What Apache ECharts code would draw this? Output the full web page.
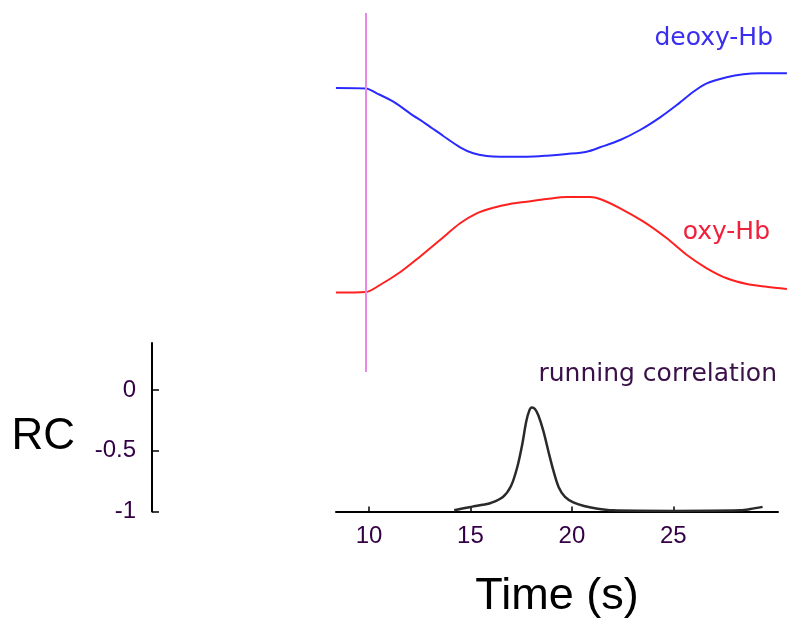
<!DOCTYPE html>
<html>
<head>
<meta charset="utf-8">
<script src="https://cdn.jsdelivr.net/npm/echarts@6/dist/echarts.min.js"></script>
<style>
html,body{margin:0;padding:0;background:#fff;}
#chart{width:800px;height:633px;}
</style>
</head>
<body>
<div id="chart"></div>
<script>
// ---- data ----
const timeTicks = [10, 15, 20, 25];
const rcTicks = [-1, -0.5, 0];
const stimulusTime = 9.84;

// [time (s), relative amplitude]
const deoxyHb = [
  [8.37, 2.84], [9.85, 2.835], [10.38, 2.787], [11.2, 2.703], [12.02, 2.587], [12.84, 2.477],
  [13.66, 2.36], [14.49, 2.247], [15.14, 2.187], [15.8, 2.16], [16.46, 2.153], [17.77, 2.153],
  [18.76, 2.163], [19.75, 2.18], [20.73, 2.203], [21.39, 2.247], [22.38, 2.32], [23.36, 2.42],
  [24.35, 2.547], [25.17, 2.67], [25.99, 2.803], [26.65, 2.887], [27.63, 2.947], [28.45, 2.977],
  [29.27, 2.987], [30.6, 2.987]
];
const oxyHb = [
  [8.37, 0.795], [9.85, 0.80], [10.54, 0.87], [11.53, 0.997], [12.51, 1.153], [13.5, 1.32],
  [14.49, 1.487], [15.31, 1.587], [16.13, 1.643], [16.95, 1.68], [17.77, 1.703], [18.76, 1.73],
  [19.75, 1.75], [20.9, 1.75], [21.39, 1.73], [22.38, 1.637], [23.53, 1.503], [24.68, 1.337],
  [25.67, 1.17], [26.65, 1.037], [27.63, 0.937], [28.62, 0.88], [29.6, 0.853], [30.6, 0.83]
];
// [time (s), RC]
const runningCorr = [
  [14.2, -0.99], [14.6, -0.975], [15.1, -0.96], [15.6, -0.945], [16.0, -0.93], [16.6, -0.88],
  [17.0, -0.79], [17.3, -0.64], [17.55, -0.45], [17.75, -0.26], [17.9, -0.17], [18.02, -0.145],
  [18.18, -0.156], [18.35, -0.21], [18.6, -0.34], [18.85, -0.51], [19.1, -0.67], [19.35, -0.80],
  [19.66, -0.88], [20.07, -0.925], [20.6, -0.955], [21.2, -0.975], [22.0, -0.99], [25.0, -0.995],
  [28.3, -0.99], [28.8, -0.98], [29.4, -0.962]
];

const labelColor = '#330044';
const sans = '"Liberation Sans", Arial, sans-serif';
const labelFont = '"DejaVu Sans", sans-serif';

const chart = echarts.init(document.getElementById('chart'), null, {renderer: 'canvas'});
chart.setOption({
  animation: false,
  backgroundColor: '#ffffff',
  grid: [
    {left: 152, top: 343, width: 10, height: 168.5},
    {left: 336, right: 22, top: 343, height: 168.5},
    {left: 336, right: 13, top: 13, height: 359}
  ],
  xAxis: [
    {gridIndex: 0, type: 'value', min: 0, max: 1, show: false},
    {
      gridIndex: 1, type: 'value', min: 8.373, max: 30.16,
      axisLine: {show: true, onZero: false, lineStyle: {color: '#000', width: 2}},
      axisTick: {show: true, inside: true, length: 5, customValues: timeTicks, lineStyle: {color: '#000', width: 1.5}},
      axisLabel: {customValues: timeTicks, fontSize: 24, fontFamily: sans, color: labelColor, margin: 13},
      splitLine: {show: false},
      name: 'Time (s)', nameLocation: 'middle', nameGap: 63,
      nameTextStyle: {fontSize: 45, color: '#000', fontFamily: sans}
    },
    {gridIndex: 2, type: 'value', min: 8.373, max: 30.604, show: false}
  ],
  yAxis: [
    {
      gridIndex: 0, type: 'value', min: -1, max: 0.3868, position: 'left',
      axisLine: {show: true, onZero: false, lineStyle: {color: '#000', width: 2}},
      axisTick: {show: true, inside: true, length: 7, customValues: rcTicks, lineStyle: {color: '#000', width: 1.5}},
      axisLabel: {customValues: rcTicks, fontSize: 24, fontFamily: sans, color: labelColor, margin: 16},
      splitLine: {show: false}
    },
    {gridIndex: 1, type: 'value', min: -1, max: 0.3868, show: false},
    {gridIndex: 2, type: 'value', min: 0, max: 3.59, show: false}
  ],
  series: [
    {
      name: 'running correlation', type: 'line', xAxisIndex: 1, yAxisIndex: 1,
      data: runningCorr, showSymbol: false, smooth: 0.3,
      lineStyle: {color: '#2a2a2a', width: 2.5}
    },
    {
      name: 'deoxy-Hb', type: 'line', xAxisIndex: 2, yAxisIndex: 2,
      data: deoxyHb, showSymbol: false, smooth: 0.3,
      lineStyle: {color: '#2a2aff', width: 2},
      markLine: {
        silent: true, symbol: ['none', 'none'], label: {show: false},
        lineStyle: {color: '#e68ae6', width: 2, type: 'solid'},
        data: [{xAxis: stimulusTime}]
      }
    },
    {
      name: 'oxy-Hb', type: 'line', xAxisIndex: 2, yAxisIndex: 2,
      data: oxyHb, showSymbol: false, smooth: 0.3,
      lineStyle: {color: '#ff2020', width: 2}
    }
  ],
  graphic: [
    {type: 'text', style: {text: 'deoxy-Hb', x: 773, y: 38, align: 'right', verticalAlign: 'middle', font: '25px ' + labelFont, fill: '#3a2ef0'}},
    {type: 'text', style: {text: 'oxy-Hb', x: 770, y: 232, align: 'right', verticalAlign: 'middle', font: '25px ' + labelFont, fill: '#f0203c'}},
    {type: 'text', style: {text: 'running correlation', x: 777, y: 374.5, align: 'right', verticalAlign: 'middle', font: '25px ' + labelFont, fill: '#3a1048'}},
    {type: 'text', style: {text: 'RC', x: 75, y: 436.5, align: 'right', verticalAlign: 'middle', font: '44px ' + sans, fill: '#000'}}
  ]
});
</script>
</body>
</html>
